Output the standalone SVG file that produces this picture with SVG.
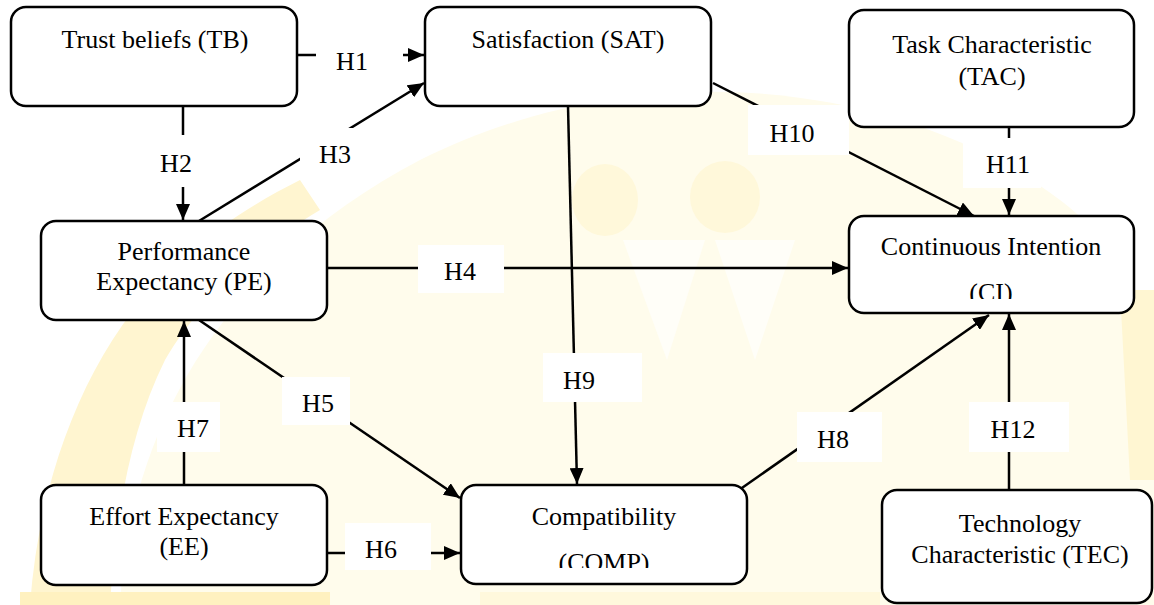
<svg xmlns="http://www.w3.org/2000/svg" width="1154" height="605" viewBox="0 0 1154 605" font-family="'Liberation Serif', 'Times New Roman', 'DejaVu Serif', serif">
<defs>
<style>
.box{fill:#fff;stroke:#000;stroke-width:2.5}
text{font-family:'Liberation Serif','Times New Roman','DejaVu Serif',serif;font-size:26px;fill:#000;text-anchor:middle}
.c{fill:none;stroke:#000;stroke-width:2.5}
.lb{fill:#fff}
</style>
<marker id="ah" viewBox="0 0 16 14" refX="16" refY="7" markerWidth="16" markerHeight="14" markerUnits="userSpaceOnUse" orient="auto">
<path d="M0,0 L16,7 L0,14 Z" fill="#000"/>
</marker>
<clipPath id="clipCI"><rect x="849" y="216" width="285" height="83"/></clipPath>
<clipPath id="clipCOMP"><rect x="461" y="485" width="286" height="83"/></clipPath>
</defs>
<rect x="0" y="0" width="1154" height="605" fill="#fff"/>
<g id="watermark">
<path d="M120,605 C130,420 230,260 420,160 C640,50 900,80 1060,200 C1140,260 1154,340 1154,420 L1154,605 Z" fill="#fffcec"/>
<path d="M30,605 C40,470 90,340 180,260 C220,225 260,200 300,180 L320,210 C260,245 200,300 165,360 C130,430 115,520 110,605 Z" fill="#fff5d0"/>
<path d="M20,592 L330,592 L330,605 L20,605 Z" fill="#fff1c0"/>
<path d="M480,592 L880,592 L880,605 L480,605 Z" fill="#fff8dc"/>
<ellipse cx="605" cy="200" rx="33" ry="36" fill="#fff8da"/>
<ellipse cx="725" cy="197" rx="35" ry="36" fill="#fff8da"/>
<path d="M623,240 L705,240 L667,360 Z" fill="#fffef8"/>
<path d="M715,240 L795,240 L755,360 Z" fill="#fffef8"/>
<path d="M1120,290 L1154,290 L1154,480 L1130,480 Z" fill="#fff6d2"/>
</g>
<g id="connectors">
<line class="c" x1="298" y1="55" x2="424" y2="55" marker-end="url(#ah)"/>
<line class="c" x1="183" y1="106" x2="183" y2="220" marker-end="url(#ah)"/>
<line class="c" x1="199" y1="221" x2="424" y2="83" marker-end="url(#ah)"/>
<line class="c" x1="327" y1="268" x2="848" y2="268" marker-end="url(#ah)"/>
<line class="c" x1="199" y1="320" x2="460" y2="498" marker-end="url(#ah)"/>
<line class="c" x1="327" y1="553" x2="460" y2="553" marker-end="url(#ah)"/>
<line class="c" x1="184" y1="485" x2="184" y2="321" marker-end="url(#ah)"/>
<line class="c" x1="739" y1="490" x2="989" y2="315" marker-end="url(#ah)"/>
<line class="c" x1="568" y1="106" x2="577" y2="484" marker-end="url(#ah)"/>
<line class="c" x1="713" y1="83" x2="974" y2="216" marker-end="url(#ah)"/>
<line class="c" x1="1009" y1="127" x2="1009" y2="215" marker-end="url(#ah)"/>
<line class="c" x1="1009" y1="490" x2="1009" y2="314" marker-end="url(#ah)"/>
<rect class="lb" x="316" y="35" width="87" height="48"/>
<text x="352" y="70">H1</text>
<rect class="lb" x="150" y="135" width="66" height="52"/>
<text x="176" y="172">H2</text>
<rect class="lb" x="300" y="128" width="85" height="49"/>
<text x="335" y="163">H3</text>
<rect class="lb" x="418" y="245" width="86" height="48"/>
<text x="460" y="280">H4</text>
<rect class="lb" x="282" y="377" width="68" height="48"/>
<text x="318" y="412">H5</text>
<rect class="lb" x="345" y="523" width="86" height="47"/>
<text x="381" y="558">H6</text>
<rect class="lb" x="157" y="402" width="63" height="50"/>
<text x="193" y="437">H7</text>
<rect class="lb" x="797" y="412" width="85" height="50"/>
<text x="833" y="448">H8</text>
<rect class="lb" x="543" y="353" width="99" height="49"/>
<text x="579" y="389">H9</text>
<rect class="lb" x="748" y="105" width="101" height="50"/>
<text x="792" y="142">H10</text>
<rect class="lb" x="963" y="138" width="78" height="50"/>
<text x="1008" y="173">H11</text>
<rect class="lb" x="969" y="402" width="100" height="50"/>
<text x="1013" y="438">H12</text>
</g>
<g id="TB">
<rect class="box" x="11" y="7" width="286" height="99" rx="15"/>
<text x="155" y="48">Trust beliefs (TB)</text>
</g>
<g id="SAT">
<rect class="box" x="425" y="7" width="286" height="99" rx="15"/>
<text x="568" y="48">Satisfaction (SAT)</text>
</g>
<g id="TAC">
<rect class="box" x="849" y="10" width="285" height="117" rx="15"/>
<text x="992" y="53">Task Characteristic</text>
<text x="992" y="85">(TAC)</text>
</g>
<g id="PE">
<rect class="box" x="41" y="221" width="286" height="99" rx="15"/>
<text x="184" y="260">Performance</text>
<text x="184" y="290">Expectancy (PE)</text>
</g>
<g id="CI">
<rect class="box" x="849" y="216" width="285" height="97" rx="15"/>
<text x="991" y="255">Continuous Intention</text>
<text x="991" y="301" clip-path="url(#clipCI)">(CI)</text>
</g>
<g id="EE">
<rect class="box" x="41" y="485" width="286" height="100" rx="15"/>
<text x="184" y="525">Effort Expectancy</text>
<text x="184" y="555">(EE)</text>
</g>
<g id="COMP">
<rect class="box" x="461" y="485" width="286" height="99" rx="15"/>
<text x="604" y="525">Compatibility</text>
<text x="604" y="571" clip-path="url(#clipCOMP)">(COMP)</text>
</g>
<g id="TEC">
<rect class="box" x="882" y="490" width="270" height="113" rx="15"/>
<text x="1020" y="532">Technology</text>
<text x="1020" y="563">Characteristic (TEC)</text>
</g>
</svg>
